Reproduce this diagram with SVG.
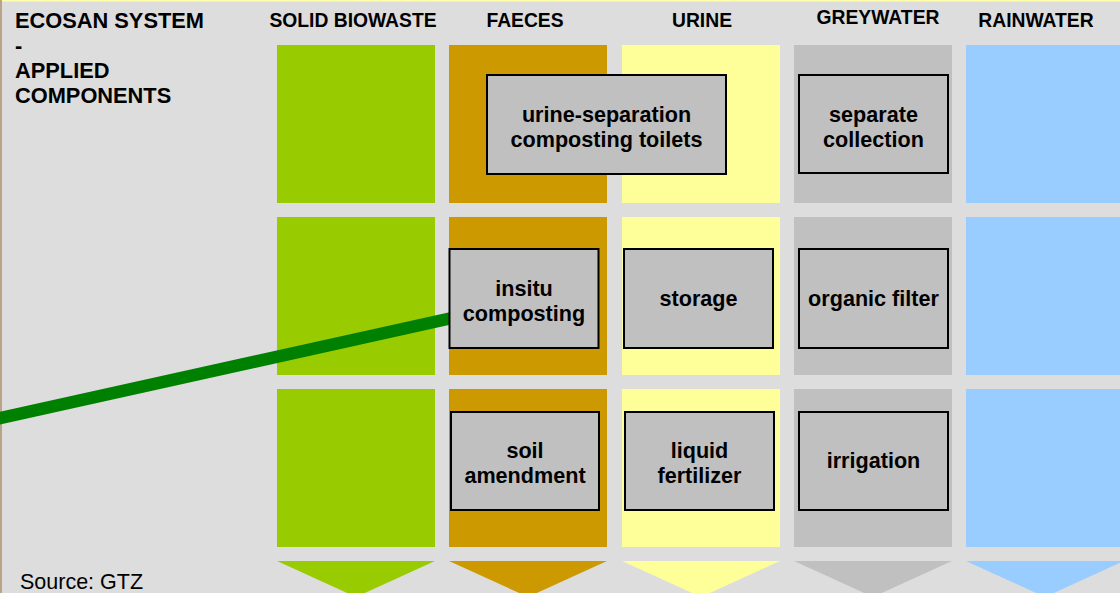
<svg xmlns="http://www.w3.org/2000/svg" width="1120" height="593" viewBox="0 0 1120 593">
<style>
.hd{font-family:"Liberation Sans",Arial,sans-serif;font-weight:bold;font-size:19.3px;fill:#000;text-anchor:middle}
.lt{font-family:"Liberation Sans",Arial,sans-serif;font-weight:bold;font-size:21.8px;fill:#000}
.bx rect{fill:#C0C0C0;stroke:#000;stroke-width:2}
.bx text{font-family:"Liberation Sans",Arial,sans-serif;font-weight:bold;font-size:21.6px;fill:#000;text-anchor:middle}
.src{font-family:"Liberation Sans",Arial,sans-serif;font-size:21.5px;fill:#000}
.g{fill:#99CC00}.f{fill:#CC9900}.u{fill:#FFFF99}.w{fill:#C0C0C0}.r{fill:#99CCFF}
</style>
<rect x="0" y="0" width="1120" height="593" fill="#DDDDDD"/>
<rect x="0" y="0" width="1120" height="1.5" fill="#FFFFAA"/>
<rect x="0" y="0" width="2" height="593" fill="#B8A486"/>
<g id="columns">
<rect class="g" x="277" y="45" width="158" height="158"/>
<rect class="g" x="277" y="217" width="158" height="158"/>
<rect class="g" x="277" y="389" width="158" height="158"/>
<polygon class="g" points="277,561 435,561 356,597"/>
<rect class="f" x="449" y="45" width="158" height="158"/>
<rect class="f" x="449" y="217" width="158" height="158"/>
<rect class="f" x="449" y="389" width="158" height="158"/>
<polygon class="f" points="449,561 607,561 528,597"/>
<rect class="u" x="622" y="45" width="158" height="158"/>
<rect class="u" x="622" y="217" width="158" height="158"/>
<rect class="u" x="622" y="389" width="158" height="158"/>
<polygon class="u" points="622,561 780,561 701,597"/>
<rect class="w" x="794" y="45" width="158" height="158"/>
<rect class="w" x="794" y="217" width="158" height="158"/>
<rect class="w" x="794" y="389" width="158" height="158"/>
<polygon class="w" points="794,561 952,561 873,597"/>
<rect class="r" x="966" y="45" width="158" height="158"/>
<rect class="r" x="966" y="217" width="158" height="158"/>
<rect class="r" x="966" y="389" width="158" height="158"/>
<polygon class="r" points="966,561 1124,561 1045,597"/>
</g>
<g id="headers">
<text class="lt" x="15" y="28">ECOSAN SYSTEM</text>
<text class="lt" x="15" y="53">-</text>
<text class="lt" x="15" y="78">APPLIED</text>
<text class="lt" x="15" y="103">COMPONENTS</text>
<text class="hd" x="353" y="27">SOLID BIOWASTE</text>
<text class="hd" x="525" y="27">FAECES</text>
<text class="hd" x="702" y="27">URINE</text>
<text class="hd" x="878" y="24">GREYWATER</text>
<text class="hd" x="1036" y="27">RAINWATER</text>
</g>
<g id="connectors">
<line x1="-2" y1="418.5" x2="452" y2="318" stroke="#008000" stroke-width="12.5"/>
</g>
<g id="n-toilets" class="bx"><rect x="487" y="75" width="239" height="99"/><text x="606.5" y="122">urine-separation</text><text x="606.5" y="147">composting toilets</text></g>
<g id="n-collection" class="bx"><rect x="799" y="75" width="149" height="98"/><text x="873.5" y="122">separate</text><text x="873.5" y="147">collection</text></g>
<g id="n-insitu" class="bx"><rect x="449.5" y="249" width="149" height="99"/><text x="524" y="296">insitu</text><text x="524" y="321">composting</text></g>
<g id="n-storage" class="bx"><rect x="624" y="249" width="149" height="99"/><text x="698.5" y="306">storage</text></g>
<g id="n-filter" class="bx"><rect x="799" y="249" width="149" height="99"/><text x="873.5" y="306">organic filter</text></g>
<g id="n-soil" class="bx"><rect x="451" y="412" width="148" height="98"/><text x="525" y="458">soil</text><text x="525" y="483">amendment</text></g>
<g id="n-liquid" class="bx"><rect x="625" y="412" width="149" height="98"/><text x="699.5" y="458">liquid</text><text x="699.5" y="483">fertilizer</text></g>
<g id="n-irrigation" class="bx"><rect x="799" y="412" width="149" height="98"/><text x="873.5" y="468">irrigation</text></g>
<text class="src" x="20" y="589">Source: GTZ</text>
</svg>
